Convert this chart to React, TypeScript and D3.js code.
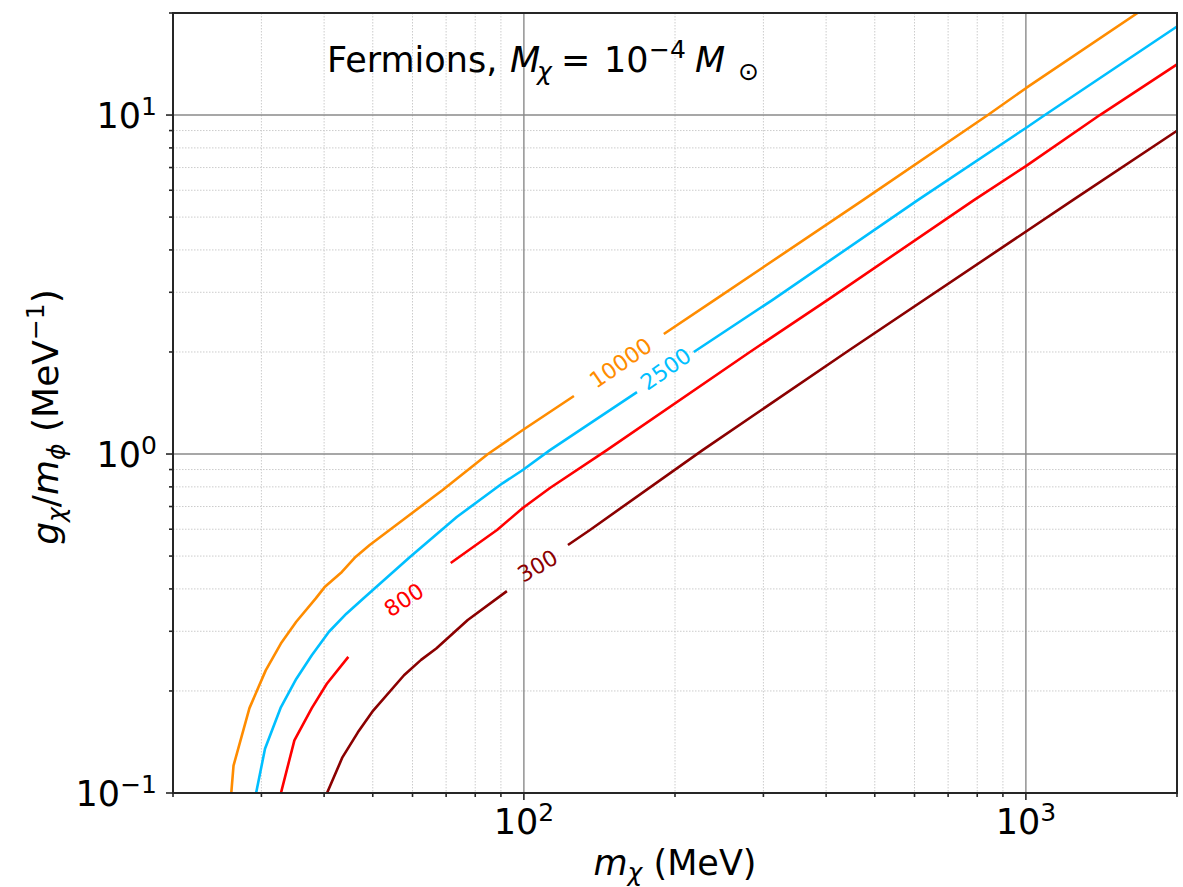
import React from 'react';
import * as d3 from 'd3';

// ---- data ----
const xDomain: [number, number] = [20, 2000];
const yDomain: [number, number] = [0.1, 20];
const xMajorTicks = [100, 1000];
const xMajorExp = ['2', '3'];
const yMajorTicks = [0.1, 1, 10];
const yMajorExp = ['\u22121', '0', '1'];

const levels = ['10000', '2500', '800', '300'];
const levelColors = ['#ff8c00', '#00bfff', '#ff0000', '#8b0000'];

// contour 10000 (before / after its inline label)
const c10000a: [number, number][] = [[26.1, 0.098], [26.4, 0.1204], [28.4, 0.178], [30.6, 0.23], [32.8, 0.276], [35.2, 0.32], [38.5, 0.375], [40.1, 0.405], [43.4, 0.449], [46.2, 0.497], [49.3, 0.539], [57.4, 0.639], [68.9, 0.783], [84.8, 1.0], [99.5, 1.177], [125.8, 1.483]];
const c10000b: [number, number][] = [[190, 2.26], [240, 2.85], [473.6, 5.61], [840, 10], [1000, 12.0], [1669, 20], [2000, 23.9]];
// contour 2500
const c2500a: [number, number][] = [[29.2, 0.098], [30.5, 0.135], [32.8, 0.179], [35.2, 0.217], [37.8, 0.255], [40.9, 0.299], [44.3, 0.338], [48.0, 0.376], [59.3, 0.497], [73.5, 0.652], [90.8, 0.821], [99.5, 0.897], [112.7, 1.027], [168, 1.523]];
const c2500b: [number, number][] = [[218, 2.0], [313, 2.85], [609, 5.61], [1000, 9.16], [1091, 10], [2000, 18.25]];
// contour 800
const c800a: [number, number][] = [[32.7, 0.098], [34.9, 0.143], [37.8, 0.178], [40.5, 0.21], [44.7, 0.252]];
const c800b: [number, number][] = [[71.5, 0.477], [88.4, 0.597], [99.5, 0.693], [112.7, 0.794], [146.3, 1.027], [282, 2.0], [403, 2.85], [788, 5.61], [1000, 7.07], [1404, 10], [2000, 14.1]];
// contour 300
const c300a: [number, number][] = [[40.3, 0.098], [43.5, 0.1274], [46.7, 0.151], [50.1, 0.175], [57.7, 0.2225], [62.4, 0.247], [66.9, 0.267], [77.3, 0.324], [92.5, 0.394]];
const c300b: [number, number][] = [[122.4, 0.539], [135.4, 0.597], [227, 1.027], [446, 2.03], [1240, 5.61], [2000, 8.99]];

const levelSegments = [[c10000a, c10000b], [c2500a, c2500b], [c800a, c800b], [c300a, c300b]];
const labelM = [156, 191.8, 57.7, 106.6];
const labelG = [1.855, 1.781, 0.371, 0.467];
const labelAngle = [-34.6, -35, -33, -30];

// ---- layout ----
const W = 1183, H = 887;
const L = 173, R = 1177, T = 13, B = 793;
const FONT = 'DejaVu Sans, Liberation Sans, sans-serif';
const FS = 35;
const FS_SMALL = 25;

export default function App() {
  const x = d3.scaleLog().domain(xDomain).range([L, R]);
  const y = d3.scaleLog().domain(yDomain).range([B, T]);
  const line = d3.line<[number, number]>().x(d => x(d[0])).y(d => y(d[1]));

  const near = (a: number, arr: number[]) => arr.some(v => Math.abs(v - a) / v < 1e-6);
  const xMinor = x.ticks().filter(v => !near(v, xMajorTicks));
  const yMinor = y.ticks().filter(v => !near(v, yMajorTicks));

  return (
    <div style={{ position: 'absolute', left: 0, top: 0 }}>
      <svg width={W} height={H} style={{ display: 'block' }} fontFamily={FONT}>
        <rect x={0} y={0} width={W} height={H} fill="#fff" />
        <defs>
          <clipPath id="plotclip">
            <rect x={L} y={T} width={R - L} height={B - T} />
          </clipPath>
        </defs>
        {/* minor grid */}
        <g stroke="#cccccc" strokeWidth={1} strokeDasharray="1.5,1.5">
          {xMinor.map((v, i) => (
            <line key={'xm' + i} x1={x(v)} x2={x(v)} y1={T} y2={B} />
          ))}
          {yMinor.map((v, i) => (
            <line key={'ym' + i} x1={L} x2={R} y1={y(v)} y2={y(v)} />
          ))}
        </g>
        {/* major grid */}
        <g stroke="#8a8a8a" strokeWidth={1.4}>
          {xMajorTicks.map((v, i) => (
            <line key={'xg' + i} x1={x(v)} x2={x(v)} y1={T} y2={B} />
          ))}
          {yMajorTicks.map((v, i) => (
            <line key={'yg' + i} x1={L} x2={R} y1={y(v)} y2={y(v)} />
          ))}
        </g>
        {/* contours */}
        <g clipPath="url(#plotclip)" fill="none" strokeWidth={2.6} strokeLinejoin="round">
          {levelSegments.map((segs, i) =>
            segs.map((s, j) => (
              <path key={'c' + i + '_' + j} d={line(s) || ''} stroke={levelColors[i]} />
            ))
          )}
        </g>
        {/* inline labels */}
        {levels.map((lv, i) => {
          const px = x(labelM[i]);
          const py = y(labelG[i]);
          return (
            <text
              key={'lab' + i}
              x={px}
              y={py}
              fill={levelColors[i]}
              fontSize={22}
              textAnchor="middle"
              dominantBaseline="central"
              transform={`rotate(${labelAngle[i]},${px},${py})`}
            >
              {lv}
            </text>
          );
        })}
        {/* spines */}
        <rect x={L} y={T} width={R - L} height={B - T} fill="none" stroke="#262626" strokeWidth={2} />
        {/* ticks */}
        <g stroke="#262626" strokeWidth={1.6}>
          {xMajorTicks.map((v, i) => (
            <line key={'xt' + i} x1={x(v)} x2={x(v)} y1={B} y2={B + 7} />
          ))}
          {xMinor.map((v, i) => (
            <line key={'xtm' + i} x1={x(v)} x2={x(v)} y1={B} y2={B + 4} />
          ))}
          {yMajorTicks.map((v, i) => (
            <line key={'yt' + i} x1={L - 7} x2={L} y1={y(v)} y2={y(v)} />
          ))}
          {yMinor.map((v, i) => (
            <line key={'ytm' + i} x1={L - 4} x2={L} y1={y(v)} y2={y(v)} />
          ))}
        </g>
        {/* tick labels */}
        {xMajorTicks.map((v, i) => (
          <text key={'xl' + i} x={x(v)} y={834} fontSize={FS} textAnchor="middle" fill="#000">
            10<tspan fontSize={FS_SMALL} dy={-13}>{xMajorExp[i]}</tspan>
          </text>
        ))}
        {yMajorTicks.map((v, i) => (
          <text key={'yl' + i} x={157} y={y(v) + 13} fontSize={FS} textAnchor="end" fill="#000">
            10<tspan fontSize={FS_SMALL} dy={-13}>{yMajorExp[i]}</tspan>
          </text>
        ))}
        {/* axis labels */}
        <text x={675} y={875} fontSize={FS} textAnchor="middle" fill="#000">
          <tspan fontStyle="italic">m</tspan>
          <tspan fontStyle="italic" fontSize={FS_SMALL} dy={6}>χ</tspan>
          <tspan dy={-6}> (MeV)</tspan>
        </text>
        <text x={0} y={0} fontSize={36} textAnchor="middle" fill="#000" transform="translate(58,417) rotate(-90)">
          <tspan fontStyle="italic">g</tspan>
          <tspan fontStyle="italic" fontSize={FS_SMALL} dy={7}>χ</tspan>
          <tspan dy={-7}>/</tspan>
          <tspan fontStyle="italic">m</tspan>
          <tspan fontStyle="italic" fontSize={FS_SMALL} dy={7}>ϕ</tspan>
          <tspan dy={-7}> (MeV</tspan>
          <tspan fontSize={FS_SMALL} dy={-14}>−1</tspan>
          <tspan dy={14}>)</tspan>
        </text>
        {/* title */}
        <text y={72} fontSize={FS} fill="#000">
          <tspan x={327}>Fermions,</tspan>
          <tspan x={510} fontStyle="italic">M</tspan>
          <tspan x={537} fontSize={FS_SMALL} fontStyle="italic" dy={8}>χ</tspan>
          <tspan x={561} dy={-8}>=</tspan>
          <tspan x={604}>10</tspan>
          <tspan x={649} fontSize={FS_SMALL} dy={-14}>−4</tspan>
          <tspan x={695} fontStyle="italic" dy={14}>M</tspan>
          <tspan x={738} fontSize={FS_SMALL} dy={8}>⊙</tspan>
        </text>
      </svg>
    </div>
  );
}
